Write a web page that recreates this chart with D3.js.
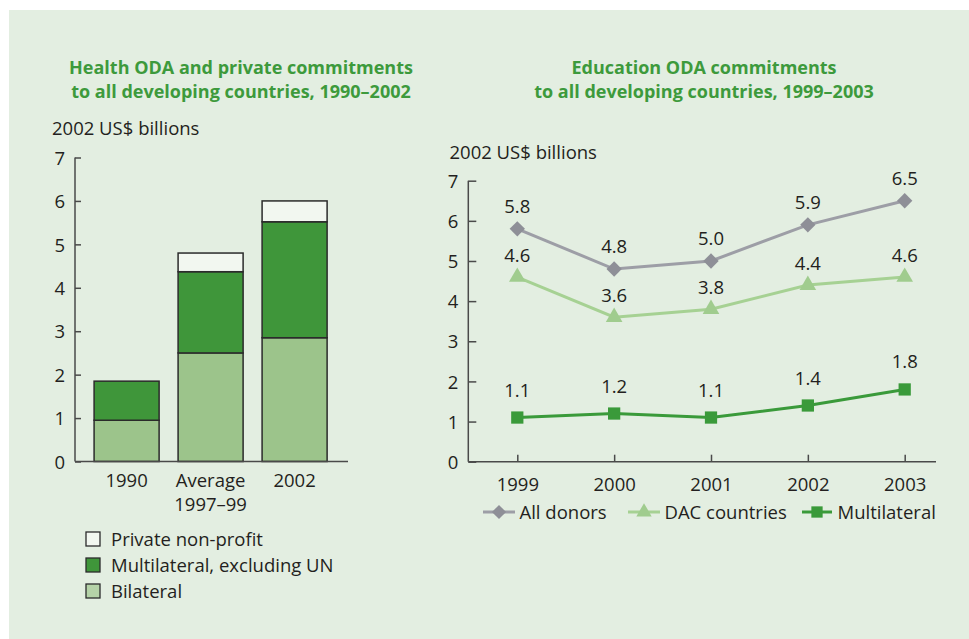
<!DOCTYPE html>
<html>
<head>
<meta charset="utf-8">
<script src="https://cdn.jsdelivr.net/npm/d3@7"></script>
<style>
  html, body { margin: 0; padding: 0; background: #ffffff; }
  svg text { font-family: "Open Sans", "Noto Sans", sans-serif; fill: #231f20; }
  .title { font-weight: 700; fill: #3d9a3c; font-size: 18px; }
  .tick text { font-size: 18.5px; }
  .axis path, .axis line { stroke: #4a4a4a; stroke-width: 1.5; }
</style>
</head>
<body>
<svg id="chart" width="969" height="639"></svg>
<script>
// ---- Health chart data (2002 US$ billions) ----
const healthCategories = ["1990", "Average 1997–99", "2002"];
const healthLabels = [["1990"], ["Average", "1997–99"], ["2002"]];
const healthSeries = ["Bilateral", "Multilateral, excluding UN", "Private non-profit"];
const bilateral = [0.95, 2.5, 2.85];
const multilateralExUN = [0.9, 1.87, 2.67];
const privateNonProfit = [0, 0.43, 0.48];
const healthTicks = [0, 1, 2, 3, 4, 5, 6, 7];

// ---- Education chart data (2002 US$ billions) ----
const eduYears = ["1999", "2000", "2001", "2002", "2003"];
const eduSeries = ["All donors", "DAC countries", "Multilateral"];
const allDonors = [5.8, 4.8, 5.0, 5.9, 6.5];
const dacCountries = [4.6, 3.6, 3.8, 4.4, 4.6];
const multilateral = [1.1, 1.2, 1.1, 1.4, 1.8];
const eduTicks = [0, 1, 2, 3, 4, 5, 6, 7];

const FS = "18.5px";
const svg = d3.select("#chart");

// panel background
svg.append("rect").attr("x", 9).attr("y", 10).attr("width", 960).attr("height", 629)
  .attr("fill", "#e3eee1");

// ================= Left: stacked bars =================
const healthColors = { "Bilateral": "#9cc48b", "Multilateral, excluding UN": "#3f963a", "Private non-profit": "#f2f7f0" };
const left = svg.append("g");

left.append("text").attr("class", "title").attr("text-anchor", "middle")
  .attr("x", 241).attr("y", 73.5).text("Health ODA and private commitments");
left.append("text").attr("class", "title").attr("text-anchor", "middle")
  .attr("x", 241).attr("y", 97.5).text("to all developing countries, 1990–2002");
left.append("text").attr("x", 52).attr("y", 135).style("font-size", FS).text("2002 US$ billions");

const yL = d3.scaleLinear().domain([0, 7]).range([461.5, 157.5]);
const xL = d3.scaleBand().domain(healthCategories).range([84.6, 336.6])
  .paddingInner(0.226).paddingOuter(0.113);

const healthRows = healthCategories.map((c, i) => ({
  cat: c,
  "Bilateral": bilateral[i],
  "Multilateral, excluding UN": multilateralExUN[i],
  "Private non-profit": privateNonProfit[i]
}));
const stacked = d3.stack().keys(healthSeries)(healthRows);

left.selectAll("g.layer").data(stacked).join("g").attr("class", "layer")
  .attr("fill", d => healthColors[d.key])
  .selectAll("rect").data(d => d.filter(p => p[1] - p[0] > 0)).join("rect")
  .attr("x", d => xL(d.data.cat))
  .attr("width", xL.bandwidth())
  .attr("y", d => yL(d[1]))
  .attr("height", d => yL(d[0]) - yL(d[1]))
  .attr("stroke", "#2b2b2b").attr("stroke-width", 1.5);

// y axis (ticks point into the plot)
const yAxisL = left.append("g").attr("class", "axis").attr("transform", "translate(75,0)")
  .call(d3.axisLeft(yL).tickValues(healthTicks).tickFormat(d3.format("d"))
    .tickSizeInner(-6).tickSizeOuter(0).tickPadding(10));
yAxisL.select(".domain").remove();
left.append("line").attr("x1", 75).attr("x2", 75).attr("y1", yL(0)).attr("y2", yL(7))
  .attr("stroke", "#4a4a4a").attr("stroke-width", 1.5);
left.append("line").attr("x1", 75).attr("x2", 348).attr("y1", yL(0)).attr("y2", yL(0))
  .attr("stroke", "#4a4a4a").attr("stroke-width", 1.5);
yAxisL.selectAll("text").attr("dy", "0.36em");

// category labels (one text per line)
healthCategories.forEach((c, i) => {
  healthLabels[i].forEach((line, j) => {
    left.append("text").attr("text-anchor", "middle").style("font-size", FS)
      .attr("x", xL(c) + xL.bandwidth() / 2).attr("y", 486.5 + j * 24).text(line);
  });
});

// legend
const legendOrder = ["Private non-profit", "Multilateral, excluding UN", "Bilateral"];
const legendFill = { "Private non-profit": "#f2f7f0", "Multilateral, excluding UN": "#3f963a", "Bilateral": "#b5d3a8" };
legendOrder.forEach((k, i) => {
  const cy = 539 + i * 26;
  left.append("rect").attr("x", 86).attr("y", cy - 7).attr("width", 14).attr("height", 14)
    .attr("fill", legendFill[k]).attr("stroke", "#2b2b2b").attr("stroke-width", 1.3);
  left.append("text").attr("x", 111).attr("y", cy + 6.5).style("font-size", FS).text(k);
});

// ================= Right: line chart =================
const right = svg.append("g");
right.append("text").attr("class", "title").attr("text-anchor", "middle")
  .attr("x", 704).attr("y", 73.5).text("Education ODA commitments");
right.append("text").attr("class", "title").attr("text-anchor", "middle")
  .attr("x", 704).attr("y", 97.5).text("to all developing countries, 1999–2003");
right.append("text").attr("x", 449.5).attr("y", 158.5).style("font-size", FS).text("2002 US$ billions");

const yR = d3.scaleLinear().domain([0, 7]).range([461.7, 180.7]);
const xR = d3.scalePoint().domain(eduYears).range([517.3, 904.7]);

const yAxisR = right.append("g").attr("class", "axis").attr("transform", "translate(468.3,0)")
  .call(d3.axisLeft(yR).tickValues(eduTicks).tickFormat(d3.format("d"))
    .tickSizeInner(-8).tickSizeOuter(0).tickPadding(10));
yAxisR.select(".domain").remove();
yAxisR.selectAll("text").attr("dy", "0.36em");
right.append("line").attr("x1", 468.3).attr("x2", 468.3).attr("y1", yR(0)).attr("y2", yR(7))
  .attr("stroke", "#4a4a4a").attr("stroke-width", 1.5);

const xAxisR = right.append("g").attr("class", "axis").attr("transform", `translate(0,${yR(0)})`)
  .call(d3.axisBottom(xR).tickSizeInner(-7).tickSizeOuter(0).tickPadding(16));
xAxisR.select(".domain").remove();
right.append("line").attr("x1", 468.3).attr("x2", 936).attr("y1", yR(0)).attr("y2", yR(0))
  .attr("stroke", "#4a4a4a").attr("stroke-width", 1.5);

const eduStyles = {
  "All donors":    { values: allDonors,    line: "#9d9ea6", mark: "#8e8f97", shape: d3.symbolDiamond2, size: 150, labelDy: -16 },
  "DAC countries": { values: dacCountries, line: "#a6d193", mark: "#a0cc8e", shape: d3.symbolTriangle, size: 120, labelDy: -15 },
  "Multilateral":  { values: multilateral, line: "#3a9a3a", mark: "#3a9a3a", shape: d3.symbolSquare, size: 150, labelDy: -21 }
};

const lineGen = d3.line().x((d, i) => xR(eduYears[i])).y(d => yR(d));

eduSeries.forEach(name => {
  const s = eduStyles[name];
  const g = right.append("g");
  g.append("path").datum(s.values).attr("d", lineGen)
    .attr("fill", "none").attr("stroke", s.line).attr("stroke-width", 3);
  g.selectAll("path.mark").data(s.values).join("path").attr("class", "mark")
    .attr("transform", (d, i) => `translate(${xR(eduYears[i])},${yR(d)})`)
    .attr("d", d3.symbol().type(s.shape).size(s.size))
    .attr("fill", s.mark);
  g.selectAll("text.val").data(s.values).join("text").attr("class", "val")
    .attr("text-anchor", "middle").style("font-size", FS)
    .attr("x", (d, i) => xR(eduYears[i]))
    .attr("y", d => yR(d) + s.labelDy)
    .text(d => d3.format(".1f")(d));
});

// legend
const legendItems = [
  { name: "All donors", x0: 483, x1: 515, tx: 519.5 },
  { name: "DAC countries", x0: 628, x1: 660, tx: 664.5 },
  { name: "Multilateral", x0: 802, x1: 832, tx: 837.5 }
];
legendItems.forEach(it => {
  const s = eduStyles[it.name];
  const ly = 512;
  right.append("line").attr("x1", it.x0).attr("x2", it.x1).attr("y1", ly).attr("y2", ly)
    .attr("stroke", s.line).attr("stroke-width", 3);
  right.append("path").attr("transform", `translate(${(it.x0 + it.x1) / 2},${ly})`)
    .attr("d", d3.symbol().type(s.shape).size(s.size * 0.85)).attr("fill", s.mark);
  right.append("text").attr("x", it.tx).attr("y", ly + 6.5).style("font-size", FS).text(it.name);
});
</script>
</body>
</html>
